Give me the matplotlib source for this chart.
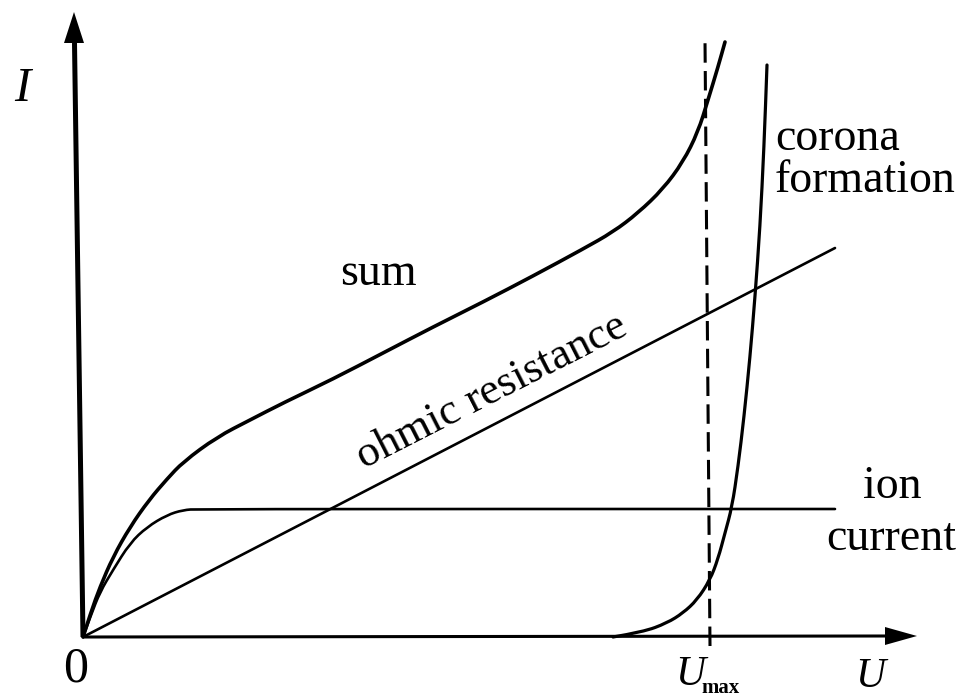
import matplotlib
matplotlib.use("Agg")
import matplotlib.pyplot as plt
from matplotlib.path import Path
from matplotlib.patches import PathPatch

plt.rcParams["font.family"] = ["Liberation Serif", "DejaVu Serif"]
plt.rcParams["lines.scale_dashes"] = False

# Current-voltage characteristic: component curves and their sum
ohmic_u = [0, 752]
ohmic_i = [0, 389]

ion_u = [0, 8, 17, 30, 47, 64, 84, 100, 115, 752]
ion_i = [0, 22, 45, 67, 94, 110, 122, 127, 128, 128]

corona_u = [530, 560, 584, 600, 614, 627, 635, 642, 649, 655, 661, 667, 672, 677, 681, 684]
corona_i = [0, 5, 14, 24, 37, 57, 78, 104, 130, 170, 220, 280, 340, 410, 490, 572]

sum_u = [0, 8, 17, 30, 47, 66, 84, 100, 134, 167, 200, 250, 300, 350, 400, 450,
         500, 530, 555, 580, 600, 615, 625, 635, 642]
sum_i = [0, 25, 50, 80, 110, 137, 158, 175, 200, 217, 234, 258, 284, 310, 335, 361,
         388, 405, 424, 448, 475, 505, 537, 570, 595]

u_max = 625


def smooth_curve(ax, u, i, lw):
    """Draw a smooth curve guided by the given points (quadratic Bezier segments)."""
    pts = list(zip(u, i))
    verts = [pts[0]]
    codes = [Path.MOVETO]
    for k in range(1, len(pts) - 1):
        mid = ((pts[k][0] + pts[k + 1][0]) / 2, (pts[k][1] + pts[k + 1][1]) / 2)
        verts += [pts[k], mid]
        codes += [Path.CURVE3, Path.CURVE3]
    verts.append(pts[-1])
    codes.append(Path.LINETO)
    ax.add_patch(PathPatch(Path(verts, codes), fill=False, edgecolor="black",
                           lw=lw, capstyle="round", joinstyle="round"))


fig = plt.figure(figsize=(9.65, 7.0), dpi=100)
ax = fig.add_axes([0, 0, 1, 1])
ax.set_xlim(-83, 882)
ax.set_ylim(-63, 637)
ax.axis("off")

k = "black"
# axes with arrow heads
ax.plot([0, -8.5], [0, 594], color=k, lw=3.6, solid_capstyle="butt")
ax.fill([-9, -19, 1], [625, 594, 594], color=k, lw=0)
ax.plot([0, 802], [0, 1], color=k, lw=2.2, solid_capstyle="butt")
ax.fill([834, 802, 802], [1, 10, -8], color=k, lw=0)

# curves
ax.plot(ohmic_u, ohmic_i, color=k, lw=1.9, solid_capstyle="round")
smooth_curve(ax, ion_u, ion_i, 1.9)
smooth_curve(ax, corona_u, corona_i, 2.3)
smooth_curve(ax, sum_u, sum_i, 2.6)

# U_max marker
ax.plot([u_max + 2, u_max - 3], [-9, 597], color=k, lw=2.2, dashes=(14, 6))

fs = 33
ax.text(-61, 536, "I", fontsize=35, style="italic", ha="center", va="baseline")
ax.text(-7, -45, "0", fontsize=36, ha="center", va="baseline")
ax.text(787, -50, "U", fontsize=30, style="italic", ha="center", va="baseline")
ax.text(607, -48, "U", fontsize=30, style="italic", ha="center", va="baseline")
ax.text(638, -56, "max", fontsize=15, weight="bold", ha="center", va="baseline")

ax.text(295, 352, "sum", fontsize=fs, ha="center", va="baseline")
ax.text(692, 487, "corona", fontsize=fs, ha="left", va="baseline")
ax.text(692, 445, "formation", fontsize=fs, ha="left", va="baseline")
ax.text(809, 139, "ion", fontsize=fs, ha="center", va="baseline")
ax.text(808, 87, "current", fontsize=fs, ha="center", va="baseline")
ax.text(414, 236, "ohmic resistance", fontsize=32, rotation=27,
        rotation_mode="anchor", ha="center", va="baseline")

fig.savefig("out.png", dpi=100)
